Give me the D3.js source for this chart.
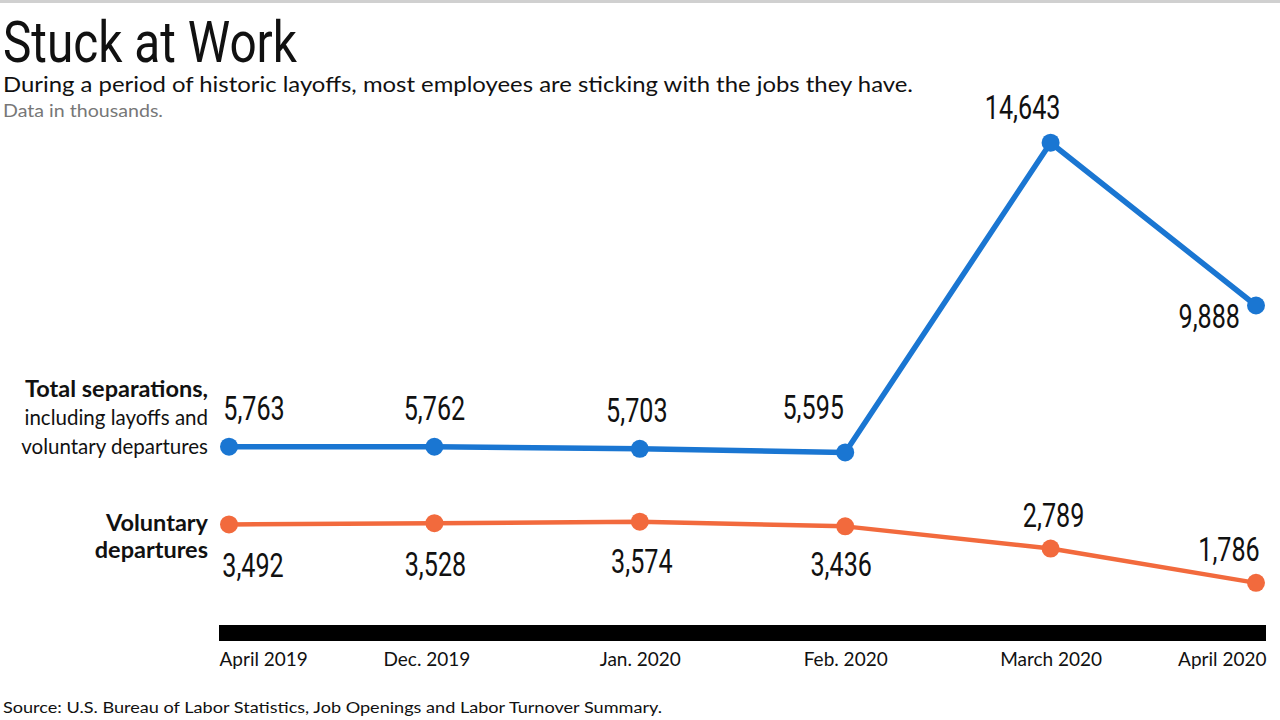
<!DOCTYPE html>
<html><head><meta charset="utf-8">
<script src="https://cdn.jsdelivr.net/npm/d3@7"></script>
<style>
body{margin:0;background:#fff;}
svg{display:block;}
</style></head>
<body>
<svg id="c" width="1280" height="720"></svg>
<script>
const categories = ["April 2019","Dec. 2019","Jan. 2020","Feb. 2020","March 2020","April 2020"];
const totalSeparations = [5763,5762,5703,5595,14643,9888];
const voluntaryDepartures = [3492,3528,3574,3436,2789,1786];

const svg = d3.select("#c");
const W = 1280, H = 720;
const numFont = "Roboto,sans-serif";
const textFont = "Lato,'Open Sans',sans-serif";

// top rule
svg.append("rect").attr("x",0).attr("y",0).attr("width",W).attr("height",3).attr("fill","#d0d0d0");

// titles
svg.append("text").attr("x",3).attr("y",62).text("Stuck at Work")
  .attr("font-family",numFont).attr("font-size",57).attr("fill","#111")
  .attr("textLength",294).attr("lengthAdjust","spacingAndGlyphs");
svg.append("text").attr("x",3).attr("y",92)
  .text("During a period of historic layoffs, most employees are sticking with the jobs they have.")
  .attr("font-family",textFont).attr("font-size",21).attr("fill","#111")
  .attr("textLength",910).attr("lengthAdjust","spacingAndGlyphs");
svg.append("text").attr("x",3).attr("y",117).text("Data in thousands.")
  .attr("font-family",textFont).attr("font-size",17).attr("fill","#777")
  .attr("textLength",160).attr("lengthAdjust","spacingAndGlyphs");
svg.append("text").attr("x",3).attr("y",713)
  .text("Source: U.S. Bureau of Labor Statistics, Job Openings and Labor Turnover Summary.")
  .attr("font-family",textFont).attr("font-size",16).attr("fill","#111")
  .attr("textLength",659).attr("lengthAdjust","spacingAndGlyphs");

// scales
const x = d3.scalePoint().domain(categories).range([229,1256]);
const y = d3.scaleLinear().domain([0,15000]).range([644,130.5]);

// axis bar
const barL = 219, barR = 1266;
svg.append("rect").attr("x",barL).attr("y",625).attr("width",barR-barL).attr("height",16).attr("fill","#000");

// axis labels
const xAxis = d3.axisBottom(x).tickSize(0).tickPadding(0);
const ax = svg.append("g").attr("transform","translate(0,652)").call(xAxis);
ax.select(".domain").remove();
ax.selectAll("text")
  .attr("font-family",textFont).attr("font-size",19).attr("fill","#111").attr("dy","0.71em")
  .each(function(d,i){
    const t = d3.select(this);
    if(i===0){ t.attr("text-anchor","start").attr("x",barL - x(d)); }
    else if(i===categories.length-1){ t.attr("text-anchor","end").attr("x",barR - x(d)); }
    else { t.attr("text-anchor","middle").attr("x", i===1 ? -8 : 0); }
  });

// series
const series = [
  {name:"total", values: totalSeparations, color:"#1a76d2", width:5.5},
  {name:"vol", values: voluntaryDepartures, color:"#f26a3d", width:4.5}
];
const line = d3.line().x((d,i)=>x(categories[i])).y(d=>y(d));
series.forEach(s=>{
  svg.append("path").datum(s.values).attr("d",line).attr("fill","none")
    .attr("stroke",s.color).attr("stroke-width",s.width).attr("stroke-linejoin","round");
  svg.selectAll(null).data(s.values).enter().append("circle")
    .attr("cx",(d,i)=>x(categories[i])).attr("cy",d=>y(d)).attr("r",9).attr("fill",s.color);
});

// value label placement (annotation layout)
const fmt = d3.format(",");
const totalLabelAdj = [[25,-27],[0,-27],[-3,-27],[-32,-33],[-28,-24],[-16,22]];
const volLabelAdj  = [[24,53],[1,53],[2,51],[-4,50],[3,-22],[-27,-22]];
function labels(vals, adj, isTotal){
  svg.selectAll(null).data(vals).enter().append("text")
    .attr("transform",(d,i)=>`translate(${x(categories[i]) + adj[i][0]},${y(d) + adj[i][1]}) scale(0.74,1)`)
    .attr("text-anchor",(d,i)=> i===5 && isTotal ? "end" : "middle")
    .attr("font-family",numFont).attr("font-size",34).attr("fill","#111")
    .text(d=>fmt(d));
}
labels(totalSeparations,totalLabelAdj,true);
labels(voluntaryDepartures,volLabelAdj,false);

// series labels
const lbl = svg.append("g").attr("font-family",textFont).attr("fill","#111").attr("text-anchor","end");
lbl.append("text").attr("x",208).attr("y",397).attr("font-size",23.5).attr("font-weight",700).text("Total separations,");
lbl.append("text").attr("x",208).attr("y",425).attr("font-size",20.5).text("including layoffs and");
lbl.append("text").attr("x",208).attr("y",454).attr("font-size",20.5).text("voluntary departures");
lbl.append("text").attr("x",208).attr("y",531).attr("font-size",23.5).attr("font-weight",700).text("Voluntary");
lbl.append("text").attr("x",208).attr("y",558).attr("font-size",23.5).attr("font-weight",700).text("departures");
</script>
</body></html>
